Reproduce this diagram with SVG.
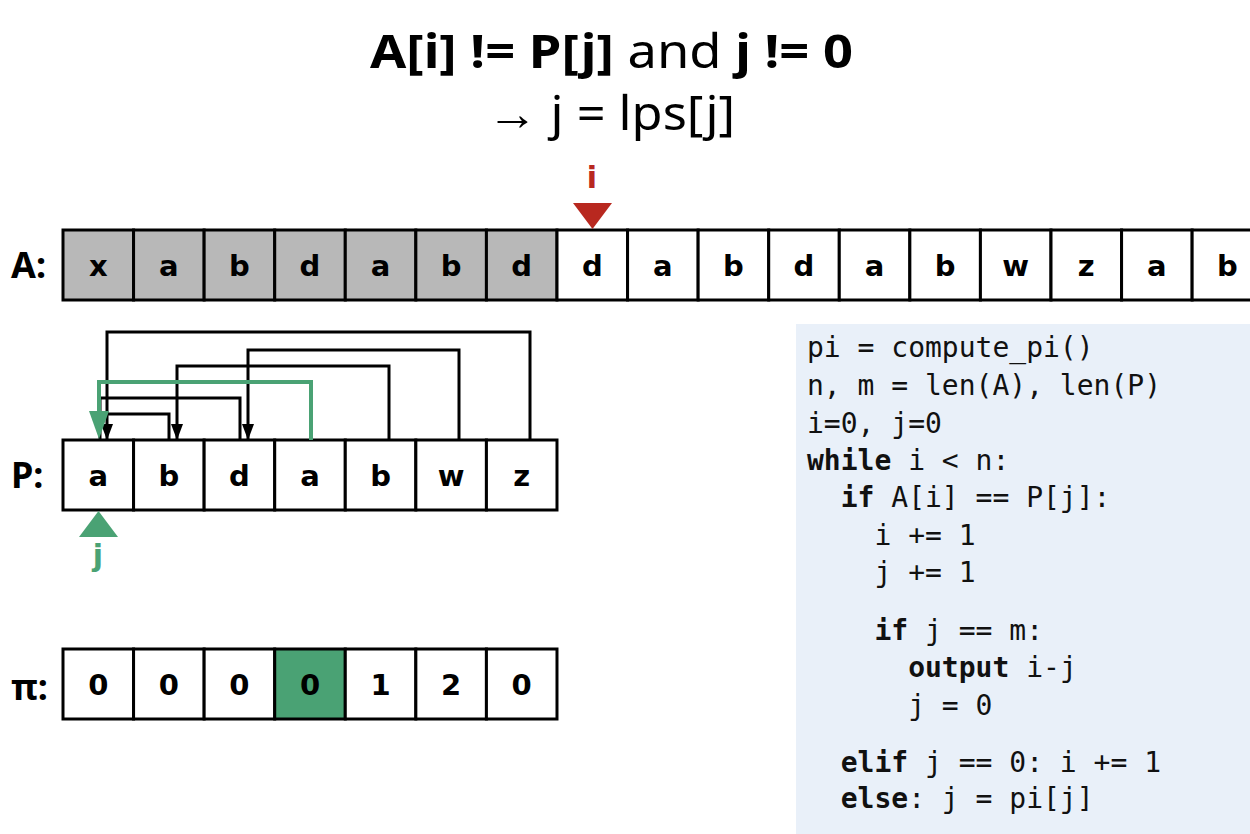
<svg xmlns="http://www.w3.org/2000/svg" width="1250" height="834" viewBox="0 0 1250 834">
<defs>
<style>
.cell{fill:#fff;stroke:#000;stroke-width:3}
.done{fill:#b8b8b8}
.hl{fill:#4aa274}
.ch{font-family:"DejaVu Sans","Noto Sans",sans-serif;font-weight:bold;font-size:29px;text-anchor:middle;fill:#000}
.lbl{font-family:"Noto Sans","DejaVu Sans",sans-serif;font-weight:bold;font-size:36px;fill:#000}
.title{font-family:"Noto Sans","Open Sans",sans-serif;font-size:47px;fill:#000}
.b{font-weight:bold}
.code{font-family:"DejaVu Sans Mono","Liberation Mono",monospace;font-size:28px;fill:#111}
.link{fill:none;stroke:#000;stroke-width:3}
.glink{fill:none;stroke:#4aa274;stroke-width:4}
</style>
<marker id="ah" viewBox="0 0 16 12" refX="15" refY="6" markerWidth="16" markerHeight="12" markerUnits="userSpaceOnUse" orient="auto">
<path d="M0,0 L16,6 L0,12 Z" fill="#000"/>
</marker>
</defs>

<g id="title">
<text class="title" x="370" y="68" textLength="483" lengthAdjust="spacingAndGlyphs"><tspan class="b">A[i] != P[j]</tspan> and <tspan class="b">j != 0</tspan></text>
<text class="title" x="487" y="130" textLength="248" lengthAdjust="spacingAndGlyphs">→ j = lps[j]</text>
</g>

<g id="row-A">
<text class="lbl" x="11" y="278">A:</text>
<rect class="cell done" x="63" y="230" width="70.57" height="70"/>
<rect class="cell done" x="133.57" y="230" width="70.57" height="70"/>
<rect class="cell done" x="204.14" y="230" width="70.57" height="70"/>
<rect class="cell done" x="274.71" y="230" width="70.57" height="70"/>
<rect class="cell done" x="345.28" y="230" width="70.57" height="70"/>
<rect class="cell done" x="415.85" y="230" width="70.57" height="70"/>
<rect class="cell done" x="486.42" y="230" width="70.57" height="70"/>
<rect class="cell" x="557" y="230" width="70.57" height="70"/>
<rect class="cell" x="627.57" y="230" width="70.57" height="70"/>
<rect class="cell" x="698.14" y="230" width="70.57" height="70"/>
<rect class="cell" x="768.71" y="230" width="70.57" height="70"/>
<rect class="cell" x="839.28" y="230" width="70.57" height="70"/>
<rect class="cell" x="909.85" y="230" width="70.57" height="70"/>
<rect class="cell" x="980.42" y="230" width="70.57" height="70"/>
<rect class="cell" x="1051" y="230" width="70.57" height="70"/>
<rect class="cell" x="1121.57" y="230" width="70.57" height="70"/>
<rect class="cell" x="1192.14" y="230" width="70.57" height="70"/>
<text class="ch" x="98.3" y="276">x</text>
<text class="ch" x="168.9" y="276">a</text>
<text class="ch" x="239.4" y="276">b</text>
<text class="ch" x="310" y="276">d</text>
<text class="ch" x="380.6" y="276">a</text>
<text class="ch" x="451.1" y="276">b</text>
<text class="ch" x="521.7" y="276">d</text>
<text class="ch" x="592.3" y="276">d</text>
<text class="ch" x="662.9" y="276">a</text>
<text class="ch" x="733.4" y="276">b</text>
<text class="ch" x="804" y="276">d</text>
<text class="ch" x="874.6" y="276">a</text>
<text class="ch" x="945.1" y="276">b</text>
<text class="ch" x="1015.7" y="276">w</text>
<text class="ch" x="1086.3" y="276">z</text>
<text class="ch" x="1156.9" y="276">a</text>
<text class="ch" x="1227.4" y="276">b</text>
</g>

<g id="marker-i">
<text x="592" y="188" font-family="DejaVu Sans,sans-serif" font-weight="bold" font-size="30" text-anchor="middle" fill="#b8281f">i</text>
<path d="M573,203 L612,203 L592.5,229 Z" fill="#b8281f"/>
</g>

<g id="row-P">
<text class="lbl" x="11" y="488">P:</text>
<rect class="cell" x="63" y="440" width="70.57" height="70"/>
<rect class="cell" x="133.57" y="440" width="70.57" height="70"/>
<rect class="cell" x="204.14" y="440" width="70.57" height="70"/>
<rect class="cell" x="274.71" y="440" width="70.57" height="70"/>
<rect class="cell" x="345.28" y="440" width="70.57" height="70"/>
<rect class="cell" x="415.85" y="440" width="70.57" height="70"/>
<rect class="cell" x="486.42" y="440" width="70.57" height="70"/>
<text class="ch" x="98.3" y="486">a</text>
<text class="ch" x="168.9" y="486">b</text>
<text class="ch" x="239.4" y="486">d</text>
<text class="ch" x="310" y="486">a</text>
<text class="ch" x="380.6" y="486">b</text>
<text class="ch" x="451.1" y="486">w</text>
<text class="ch" x="521.7" y="486">z</text>
</g>

<g id="connectors">
<path class="link" d="M530,440 V332 H107 V439" marker-end="url(#ah)"/>
<path class="link" d="M459,440 V350 H248 V439" marker-end="url(#ah)"/>
<path class="link" d="M389,440 V366 H177 V439" marker-end="url(#ah)"/>
<path class="link" d="M240,440 V398 H100 V439"/>
<path class="link" d="M169,440 V414 H107"/>
<path class="glink" d="M311,440 V382 H99 V412"/>
<path d="M89,411 L109,411 L99,439 Z" fill="#4aa274"/>
</g>

<g id="marker-j">
<path d="M79,537 L118,537 L98.5,511 Z" fill="#4aa274"/>
<text x="98" y="566" font-family="DejaVu Sans,sans-serif" font-weight="bold" font-size="30" text-anchor="middle" fill="#4aa274">j</text>
</g>

<g id="row-pi">
<text class="lbl" x="11" y="700">π:</text>
<rect class="cell" x="63" y="649" width="70.57" height="70"/>
<rect class="cell" x="133.57" y="649" width="70.57" height="70"/>
<rect class="cell" x="204.14" y="649" width="70.57" height="70"/>
<rect class="cell hl" x="274.71" y="649" width="70.57" height="70"/>
<rect class="cell" x="345.28" y="649" width="70.57" height="70"/>
<rect class="cell" x="415.85" y="649" width="70.57" height="70"/>
<rect class="cell" x="486.42" y="649" width="70.57" height="70"/>
<text class="ch" x="98.3" y="695">0</text>
<text class="ch" x="168.9" y="695">0</text>
<text class="ch" x="239.4" y="695">0</text>
<text class="ch" x="310" y="695">0</text>
<text class="ch" x="380.6" y="695">1</text>
<text class="ch" x="451.1" y="695">2</text>
<text class="ch" x="521.7" y="695">0</text>
</g>

<g id="code">
<rect x="796" y="324" width="454" height="510" fill="#e9f0f9"/>
<text class="code" xml:space="preserve"><tspan x="807" y="357">pi = compute_pi()</tspan><tspan x="807" y="395">n, m = len(A), len(P)</tspan><tspan x="807" y="433">i=0, j=0</tspan><tspan x="807" y="470"><tspan class="b">while</tspan> i &lt; n:</tspan><tspan x="807" y="507">  <tspan class="b">if</tspan> A[i] == P[j]:</tspan><tspan x="807" y="545">    i += 1</tspan><tspan x="807" y="582">    j += 1</tspan><tspan x="807" y="640">    <tspan class="b">if</tspan> j == m:</tspan><tspan x="807" y="677">      <tspan class="b">output</tspan> i-j</tspan><tspan x="807" y="715">      j = 0</tspan><tspan x="807" y="772">  <tspan class="b">elif</tspan> j == 0: i += 1</tspan><tspan x="807" y="808">  <tspan class="b">else</tspan>: j = pi[j]</tspan></text>
</g>
</svg>
